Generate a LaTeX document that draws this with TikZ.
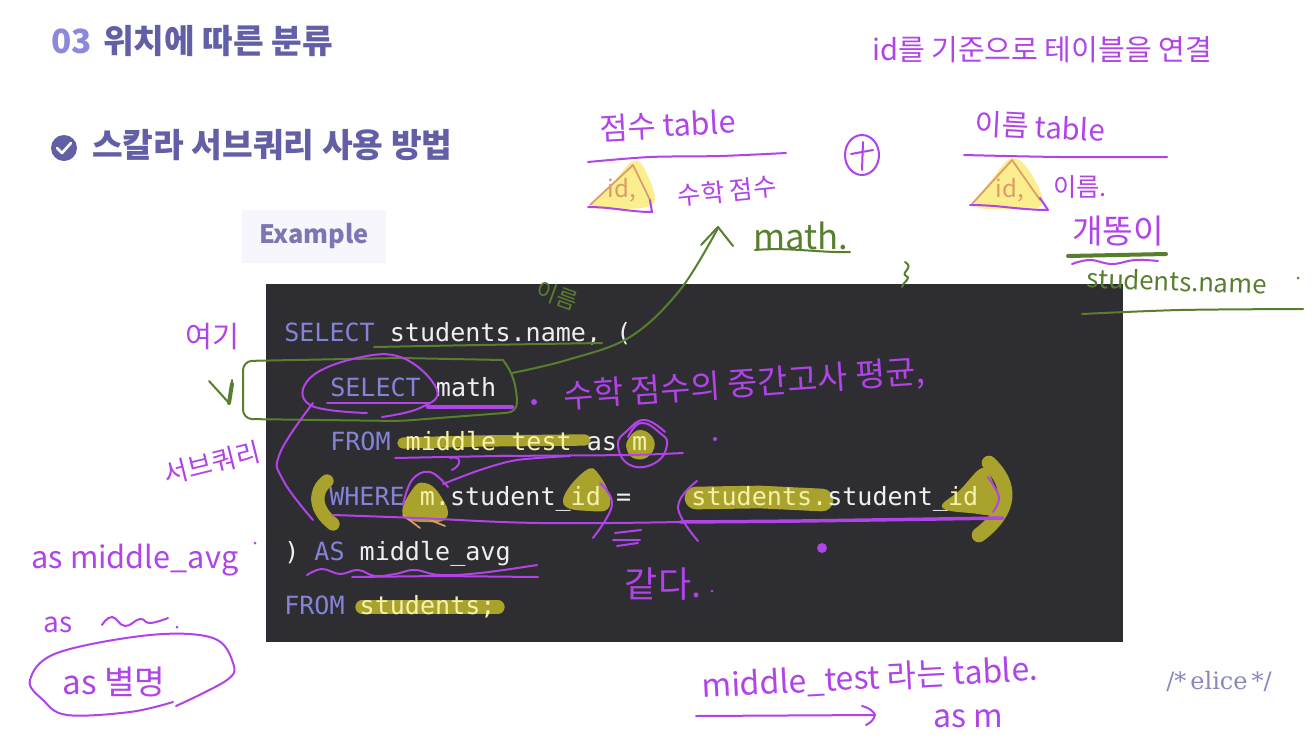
\documentclass[tikz,border=0pt]{standalone}
\usepackage{fontspec}
\setmainfont{Noto Sans CJK KR}
\newfontfamily\hand{Noto Sans CJK KR}
\newfontfamily\codef{DejaVu Sans Mono}
\newfontfamily\serifelice{DejaVu Serif}
\newcommand{\fsz}[1]{\fontsize{#1}{#1}\selectfont}
\definecolor{pen}{HTML}{B044E8}
\definecolor{grn}{HTML}{587F2E}
\definecolor{hlw}{HTML}{FBEE8E}
\definecolor{hld}{HTML}{A9A32E}
\definecolor{codebg}{HTML}{2E2D31}
\definecolor{kw}{HTML}{8583D6}
\definecolor{ink}{HTML}{EFEFEF}
\definecolor{tint}{HTML}{F6F1A8}
\definecolor{ttl}{HTML}{625FA6}
\definecolor{ttlb}{HTML}{8C89DC}
\definecolor{org}{HTML}{DE9A68}
\newcommand{\K}[1]{\textcolor{kw}{#1}}
\newcommand{\Y}[1]{\textcolor{tint}{#1}}
\tikzset{
  x=0.75pt,y=-0.75pt,
  penline/.style={draw=pen,line width=1.5pt,line cap=round,line join=round},
  grnline/.style={draw=grn,line width=1.5pt,line cap=round,line join=round},
  orgline/.style={draw=org,line width=1.3pt,line cap=round,line join=round},
  hlstroke/.style={draw=hld,line cap=round,line join=round},
  hlblob/.style={fill=hld},
  wblob/.style={fill=hlw},
  handtext/.style={text=pen,inner sep=0pt,font=\hand},
  grntext/.style={text=grn,inner sep=0pt,font=\hand},
  codeline/.style={anchor=base west,inner sep=0pt,text=ink,font=\codef\fsz{18.8pt}},
  titletext/.style={anchor=west,inner sep=0pt,text=ttl,font=\bfseries\fsz{25pt}},
}
\begin{document}
\begin{tikzpicture}
\useasboundingbox (0,0) rectangle (1314,740);
\fill[white] (0,0) rectangle (1314,740);
% slide furniture
\node[titletext] (title) at (51,41) {\textcolor{ttlb}{03}\hspace{8.5pt}위치에 따른 분류};
\fill[ttl] (64,148) circle (13);
\draw[white,line width=2pt,line cap=round,line join=round] (57,148) -- (62,153) -- (71,143);
\node[titletext] (sub) at (92,145) {스칼라 서브쿼리 사용 방법};
\fill[fill=ttlb!8] (242,210) rectangle (386,263);
\node[inner sep=0pt,text=ttl!85,font=\bfseries\fsz{19pt}] (example) at (314,236) {Example};
\fill[codebg] (266,284) rectangle (1123,642);
\node[inner sep=0pt,text=ttl!75,font=\serifelice\fsz{18pt}] (elice) at (1219,681) {/*\,elice\,*/};
% highlights on dark
\draw[hlstroke,line width=8.5pt] (403,443) -- (480,441) -- (585,440);
\draw[hlstroke,line width=10pt] (327,481) .. controls (313,492) and (315,510) .. (333,524);
\fill[hlblob] plot[smooth cycle,tension=.8] coordinates {(403,515) (412,490) (425,483) (440,495) (447,517) (425,522)};
\fill[hlblob] plot[smooth cycle,tension=.8] coordinates {(563,502) (585,471) (600,476) (610,505) (590,511)};
\fill[hlblob] plot[smooth cycle,tension=.8] coordinates {(641,430) (654,440) (650,455) (636,459) (627,450) (629,438)};
\draw[hlstroke,line width=17pt] (696,498) -- (760,497) -- (822,500);
\fill[hlblob] plot[smooth cycle,tension=.7] coordinates {(942,507) (960,490) (982,468) (992,480) (1000,512) (970,513)};
\draw[hlstroke,line width=11pt] (989,463) .. controls (1012,485) and (1012,510) .. (979,535);
\draw[hlstroke,line width=10pt] (362,607) -- (498,607);
% code
\node[codeline] (l1) at (284,341) {\K{SELECT} students.name, (};
\node[codeline] (l2) at (330,396) {\K{SELECT} math};
\node[codeline] (l3) at (330,450) {\K{FROM} \Y{middle\_test} as \Y{m}};
\node[codeline] (l4) at (329,505) {\K{WHERE} \Y{m.}student\_\Y{id} =~~~~\Y{students.}student\_\Y{id}};
\node[codeline] (l5) at (284,560) {) \K{AS} middle\_avg};
\node[codeline] (l6) at (284,614) {\K{FROM} \Y{students;}};
% top diagram
\fill[wblob] plot[smooth cycle,tension=.6] coordinates {(592,206) (612,184) (633,161) (645,170) (654,203) (620,209)};
\fill[wblob] plot[smooth cycle,tension=.6] coordinates {(975,205) (993,178) (1012,158) (1030,172) (1042,205) (1005,209)};
\draw[penline] plot[smooth,tension=.5] coordinates {(588,162) (650,157) (720,156) (786,153)};
\draw[penline] plot[smooth,tension=.5] coordinates {(964,155) (1060,157) (1167,157)};
\draw[orgline] (590,205) -- (633,165) -- (650,200);
\draw[penline] (588,207) .. controls (612,207) and (630,212) .. (652,212) -- (650,200);
\draw[orgline] (972,204) -- (1012,160) -- (1040,200);
\draw[penline] (970,205) .. controls (1000,205) and (1020,210) .. (1048,210) -- (1040,198);
\draw[penline] (862,155) ellipse (17 and 20);
\draw[penline] (851,154) -- (873,150) (863,142) -- (862,170);
\node[handtext,rotate=3] (n1) at (668,125) {\fsz{23pt}점수 table};
\node[handtext,rotate=-3] (n2) at (1040,127) {\fsz{22pt}이름 table};
\node[handtext,text=org] (n3) at (622,190) {\fsz{18pt}id,};
\node[handtext,text=org] (n4) at (1010,190) {\fsz{18pt}id,};
\node[handtext,rotate=6] (n5) at (727,191) {\fsz{19pt}수학 점수};
\node[handtext] (n6) at (1080,187) {\fsz{19pt}이름.};
\node[handtext] (n7) at (1042,50) {\fsz{21.8pt}id를 기준으로 테이블을 연결};
\node[handtext] (n8) at (1118,231) {\fsz{25pt}개똥이};
% green notes
\node[grntext] (g1) at (801,236) {\fsz{26pt}math.};
\draw[grnline] (755,250) .. controls (790,247) and (820,253) .. (850,252);
\draw[grnline] (905,262) .. controls (915,268) and (900,272) .. (906,276) .. controls (912,278) and (903,282) .. (902,287);
\draw[grnline,line width=3pt] (1068,256) -- (1166,254);
\draw[penline] plot[smooth,tension=.7] coordinates {(1072,264) (1090,260) (1112,264) (1135,260) (1158,261)};
\node[grntext,rotate=-2] (g2) at (1177,281) {\fsz{19.3pt}students.name};
\fill[grn] (1298,278) circle (1.5);
\draw[grnline] plot[smooth,tension=.5] coordinates {(1082,314) (1180,310) (1303,309)};
\node[grntext,rotate=-20] (g3) at (557,296) {\fsz{17pt}이름};
\draw[grnline] plot[smooth,tension=.5] coordinates {(374,347) (480,345) (602,343)};
\draw[grnline,rounded corners=7pt] (503,360) -- (400,358) -- (243,361) -- (243,419) -- (400,421) -- (517,412) -- (517,393) -- (512,373) -- (503,360);
\draw[grnline] (209,381) -- (229,403) -- (232,380);
\draw[grnline,line width=3pt] (229,403) -- (232,384);
\draw[grnline] plot[smooth,tension=.6] coordinates {(512,373) (567,360) (630,337) (680,290) (718,228)};
\draw[grnline] (701,245) -- (718,227) -- (733,246);
% purple on code
\draw[penline] plot[smooth,tension=.7] coordinates {(382,417) (420,408) (437,390) (403,358) (357,358) (310,378) (310,405) (367,413)};
\draw[penline] plot[smooth,tension=.5] coordinates {(327,403) (380,403) (430,403)};
\draw[penline,line width=3.2pt] (428,407) -- (512,407);
\draw[penline] plot[smooth,tension=.7] coordinates {(313,403) (280,453) (283,480) (313,520)};
\draw[penline] plot[smooth,tension=.4] coordinates {(395,458) (500,456) (630,455) (683,453)};
\draw[penline] plot[smooth,tension=.8] coordinates {(628,437) (641,423) (660,433) (667,445) (655,463) (630,465) (618,445) (628,430) (645,420) (665,432)};
\draw[penline] plot[smooth,tension=.5] coordinates {(443,484) (480,470) (517,460) (570,456)};
\draw[penline] plot[smooth,tension=.7] coordinates {(403,505) (412,480) (430,472) (448,487)};
\draw[penline] (450,458) .. controls (462,455) and (462,465) .. (452,470);
\draw[orgline] plot[smooth,tension=.7] coordinates {(403,515) (420,528)};
\draw[orgline] plot[smooth,tension=.7] coordinates {(430,520) (445,526)};
\draw[penline] plot[smooth,tension=.7] coordinates {(333,515) (417,518) (540,523) (680,522)};
\draw[penline,line width=2.6pt] plot[smooth,tension=.4] coordinates {(680,522) (800,521) (1003,518)};
\draw[penline] plot[smooth,tension=.7] coordinates {(600,483) (612,505) (593,538)};
\draw[penline] plot[smooth,tension=.7] coordinates {(697,481) (678,507) (698,541)};
\draw[penline] plot[smooth,tension=.6] coordinates {(988,477) (999,497) (993,512)};
\draw[penline] (615,533) -- (641,530) (613,540) -- (640,540) (617,546) -- (638,543);
\fill[pen] (822,548) circle (5);
\fill[pen] (715,439) circle (2);
\fill[pen] (534,402) circle (3);
\fill[pen] (712,591) circle (1.5);
\draw[penline] plot[smooth,tension=.7] coordinates {(307,575) (322,569) (340,574) (358,570) (375,576) (395,574) (415,570) (440,575) (480,573) (537,565)};
\draw[penline] (352,577) -- (440,576) -- (538,577);
% purple notes
\node[handtext,rotate=4] (p1) at (744,385) {\fsz{24.5pt}수학 점수의 중간고사 평균,};
\node[handtext] (p2) at (663,584) {\fsz{27pt}같다.};
\node[handtext] (p3) at (212,337) {\fsz{22pt}여기};
\node[handtext,rotate=14] (p4) at (212,463) {\fsz{20pt}서브쿼리};
\node[handtext] (p5) at (135,560) {\fsz{23pt}as middle\_avg};
\fill[pen] (255,543) circle (1.5);
\node[handtext] (p6) at (58,625) {\fsz{21pt}as};
\draw[penline] plot[smooth,tension=.8] coordinates {(102,625) (112,617) (125,626) (140,619) (150,623) (168,618)};
\fill[pen] (177,627) circle (1.5);
\node[handtext] (p7) at (114,682) {\fsz{25pt}as 별명};
\draw[penline] plot[smooth,tension=.6] coordinates {(173,702) (130,712) (67,715) (43,700) (30,680) (57,653) (150,635) (213,638) (233,663) (227,680) (176,706)};
\node[handtext,rotate=3] (p8) at (870,678) {\fsz{24pt}middle\_test 라는 table.};
\node[handtext] (p9) at (968,719) {\fsz{24pt}as m};
\coordinate (arrL) at (696,716);
\coordinate (arrR) at (875,715);
\draw[penline] (arrL) -- (arrR);
\draw[penline] (862,706) .. controls (870,708) and (874,712) .. (875,715) .. controls (874,720) and (870,723) .. (866,725);
\end{tikzpicture}
\end{document}
